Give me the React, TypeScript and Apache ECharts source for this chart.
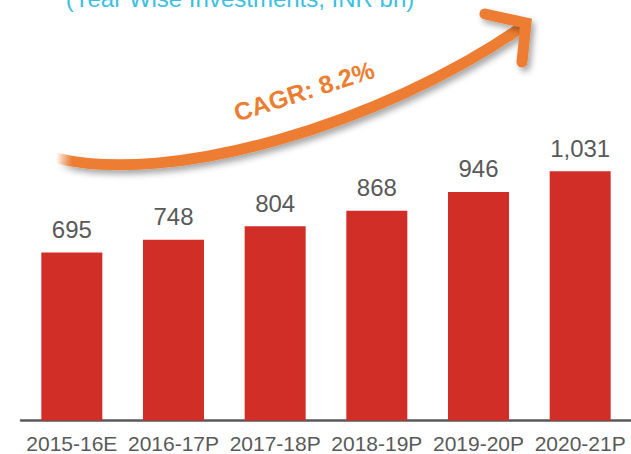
import React, { useEffect, useRef } from "react";
import * as echarts from "echarts";

const categories = ["2015-16E", "2016-17P", "2017-18P", "2018-19P", "2019-20P", "2020-21P"];
const investments = [695, 748, 804, 868, 946, 1031];
const titleText = "(Year Wise Investments, INR bn)";
const cagrText = "CAGR: 8.2%";

export default function App() {
  const ref = useRef<HTMLDivElement>(null);
  useEffect(() => {
    if (!ref.current) return;
    const chart = echarts.init(ref.current, undefined, { renderer: "svg" });
    const orange = "#ED7D31";
    chart.setOption({
      animation: false,
      grid: { left: 21, right: -5, top: 130.5, bottom: 33.5, containLabel: false },
      xAxis: {
        type: "category",
        data: categories,
        axisLine: { lineStyle: { color: "#595959", width: 2.5 } },
        axisTick: { show: false },
        axisLabel: {
          color: "#595959",
          fontSize: 21,
          fontFamily: "Liberation Sans, Arial, sans-serif",
          margin: 12,
          interval: 0,
        },
      },
      yAxis: {
        type: "value",
        min: 0,
        max: 1200,
        show: false,
        splitLine: { show: false },
      },
      series: [
        {
          type: "bar",
          data: investments,
          barWidth: 61,
          itemStyle: { color: "#D12E28" },
          label: {
            show: true,
            position: "top",
            distance: 11,
            color: "#595959",
            fontSize: 24,
            fontFamily: "Liberation Sans, Arial, sans-serif",
            formatter: (p: any) => Number(p.value).toLocaleString("en-US"),
          },
        },
      ],
      graphic: [
        {
          type: "text",
          x: 240,
          y: 10,
          style: {
            text: titleText,
            fill: "#3DBFE3",
            fontSize: 24,
            fontFamily: "Liberation Sans, Arial, sans-serif",
            textAlign: "center",
            textVerticalAlign: "bottom",
            verticalAlign: "bottom",
          },
        },
        {
          type: "bezierCurve",
          shape: { x1: 56, y1: 158, cpx1: 170, cpy1: 186, cpx2: 380, cpy2: 125, x2: 522, y2: 27 },
          style: {
            fill: "none",
            stroke: {
              type: "linear",
              x: 56,
              y: 0,
              x2: 72,
              y2: 0,
              global: true,
              colorStops: [
                { offset: 0, color: "rgba(237,125,49,0)" },
                { offset: 1, color: orange },
              ],
            },
            lineWidth: 11,
            shadowBlur: 6,
            shadowColor: "rgba(0,0,0,0.35)",
            shadowOffsetX: 3,
            shadowOffsetY: 4,
          },
        },
        {
          type: "polyline",
          shape: { points: [[485, 14], [526, 23], [522, 62]] },
          style: {
            fill: "none",
            stroke: orange,
            lineWidth: 11,
            lineCap: "round",
            lineJoin: "miter",
            shadowBlur: 6,
            shadowColor: "rgba(0,0,0,0.35)",
            shadowOffsetX: 3,
            shadowOffsetY: 4,
          },
        },
        {
          type: "text",
          x: 304,
          y: 91,
          rotation: 0.31,
          style: {
            text: cagrText,
            fill: orange,
            fontSize: 25,
            fontWeight: "bold",
            fontFamily: "Liberation Sans, Arial, sans-serif",
            textAlign: "center",
            textVerticalAlign: "middle",
            verticalAlign: "middle",
          },
        },
      ],
    });
    return () => chart.dispose();
  }, []);
  return (
    <div
      ref={ref}
      style={{ position: "absolute", left: 0, top: 0, width: 631, height: 454 }}
    />
  );
}
